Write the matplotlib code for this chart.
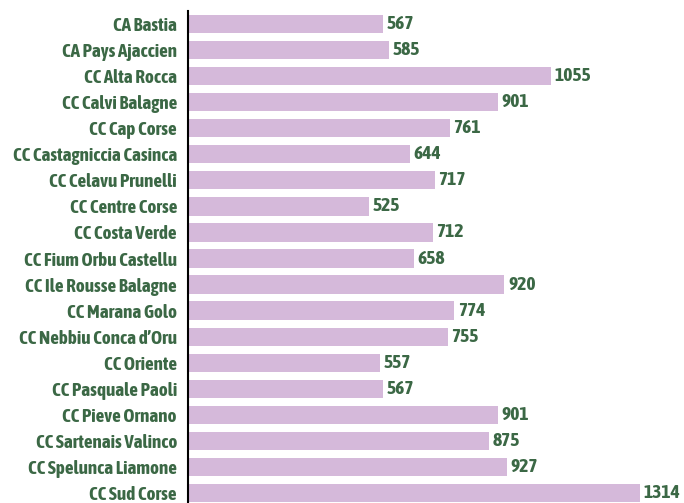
import matplotlib
matplotlib.use("Agg")
from matplotlib import pyplot as plt

names = [
    "CA Bastia", "CA Pays Ajaccien", "CC Alta Rocca", "CC Calvi Balagne",
    "CC Cap Corse", "CC Castagniccia Casinca", "CC Celavu Prunelli",
    "CC Centre Corse", "CC Costa Verde", "CC Fium Orbu Castellu",
    "CC Ile Rousse Balagne", "CC Marana Golo", "CC Nebbiu Conca d\u2019Oru",
    "CC Oriente", "CC Pasquale Paoli", "CC Pieve Ornano",
    "CC Sartenais Valinco", "CC Spelunca Liamone", "CC Sud Corse",
]
values = [567, 585, 1055, 901, 761, 644, 717, 525, 712, 658,
          920, 774, 755, 557, 567, 901, 875, 927, 1314]

bar_color = "#D5B9DA"
text_color = "#3B6845"

plt.rcParams["font.family"] = ["Asap Condensed", "DejaVu Sans"]

fig = plt.figure(figsize=(6.84, 5.03), dpi=100)
ax = fig.add_axes([188 / 684, -3 / 503, (684 - 188) / 684, 495 / 503])

pos = list(range(len(names)))
ax.barh(pos, values, height=0.7, color=bar_color)
for p, v in zip(pos, values):
    ax.text(v + 10, p, str(v), va="center", ha="left", fontsize=14,
            fontweight="bold", color=text_color)

ax.set_yticks(pos)
ax.set_yticklabels(names, fontsize=13.7, fontweight="bold", color=text_color)
ax.set_ylim(len(names) - 0.5, -0.5)
ax.set_xlim(0, 1442)
ax.set_xticks([])
ax.tick_params(axis="y", length=0, pad=8)
for side in ["top", "right", "bottom"]:
    ax.spines[side].set_visible(False)
ax.spines["left"].set_linewidth(1.5)
ax.spines["left"].set_color("black")

fig.savefig("out.png", dpi=100)
